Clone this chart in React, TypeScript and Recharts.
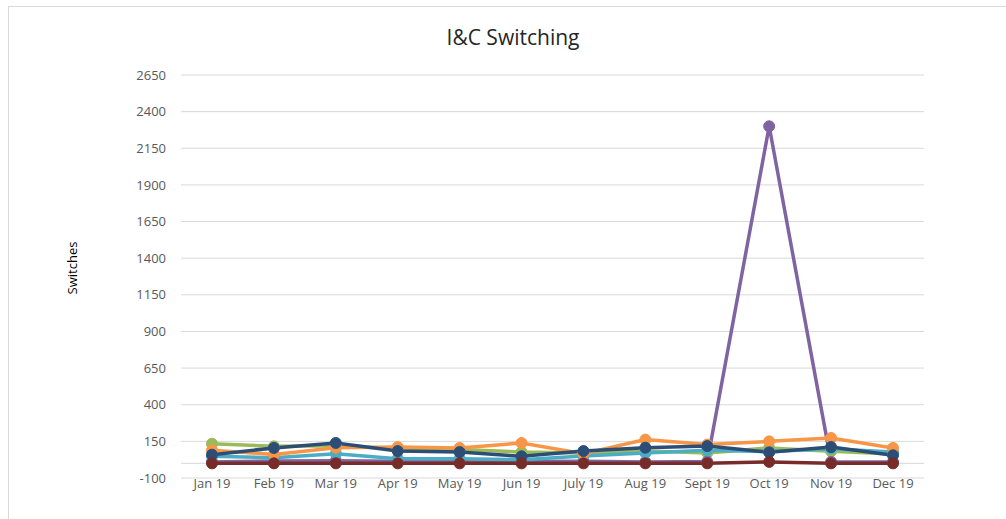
import React from "react";
import { LineChart, Line, XAxis, YAxis, CartesianGrid, ReferenceLine } from "recharts";

const months = ["Jan 19", "Feb 19", "Mar 19", "Apr 19", "May 19", "Jun 19", "July 19", "Aug 19", "Sept 19", "Oct 19", "Nov 19", "Dec 19"];
const seriesGreen = [134, 116, 120, 100, 95, 77, 70, 84, 71, 105, 82, 64];
const seriesPurple = [10, 16, 18, 15, 15, 12, 15, 10, 12, 2300, 10, 10];
const seriesAqua = [48, 39, 66, 32, 32, 25, 50, 71, 89, 80, 100, 77];
const seriesOrange = [89, 61, 107, 111, 105, 139, 66, 162, 128, 150, 173, 105];
const seriesDarkBlue = [59, 105, 139, 84, 77, 48, 84, 107, 118, 75, 111, 55];
const seriesDarkRed = [0, 0, 0, 0, 0, 0, 0, 0, 0, 10, 0, 0];
const yTicks = [-100, 150, 400, 650, 900, 1150, 1400, 1650, 1900, 2150, 2400, 2650];

const data = months.map((m, i) => ({
  month: m,
  s1: seriesGreen[i],
  s2: seriesPurple[i],
  s3: seriesAqua[i],
  s4: seriesOrange[i],
  s5: seriesDarkBlue[i],
  s6: seriesDarkRed[i],
}));

const series = [
  { key: "s1", color: "#9BBB59" },
  { key: "s2", color: "#8064A2" },
  { key: "s3", color: "#4BACC6" },
  { key: "s4", color: "#F79646" },
  { key: "s5", color: "#2C4D75" },
  { key: "s6", color: "#772C2A" },
];

const font = "'Open Sans', 'Liberation Sans', sans-serif";

export default function App() {
  return (
    <div style={{ position: "absolute", left: 0, top: 0, width: 1006, height: 519, background: "#fff", overflow: "hidden", fontFamily: font }}>
      <div style={{ position: "absolute", left: 8, top: 6, width: 1010, height: 530, border: "1px solid #d9d9d9", boxSizing: "border-box" }} />
      <div style={{ position: "absolute", left: 413, width: 200, top: 23, textAlign: "center", fontSize: 21, color: "#262626", whiteSpace: "nowrap" }}>
        I&amp;C Switching
      </div>
      <div style={{ position: "absolute", left: 72, top: 268, transform: "translate(-50%, -50%) rotate(-90deg)", fontSize: 13, color: "#000", whiteSpace: "nowrap" }}>
        Switches
      </div>
      <div style={{ position: "absolute", left: 0, top: 0 }}>
        <LineChart width={1006} height={519} data={data} margin={{ top: 75, right: 82, bottom: 11, left: 100 }}>
          <CartesianGrid horizontal={true} vertical={false} stroke="#d9d9d9" strokeWidth={1} />
          <ReferenceLine y={0} stroke="#d9d9d9" strokeWidth={1} />
          <XAxis
            dataKey="month"
            height={30}
            axisLine={false}
            tickLine={false}
            tickSize={0}
            tickMargin={1}
            padding={{ left: 31, right: 31 }}
            interval={0}
            tick={{ fill: "#595959", fontSize: 13, fontFamily: font }}
          />
          <YAxis
            width={81}
            domain={[-100, 2650]}
            ticks={yTicks}
            axisLine={false}
            tickLine={false}
            tickSize={0}
            tickMargin={15}
            interval={0}
            tick={{ fill: "#595959", fontSize: 13, fontFamily: font }}
          />
          {series.map((s) => (
            <Line
              key={s.key}
              dataKey={s.key}
              type="linear"
              stroke={s.color}
              strokeWidth={3.5}
              dot={{ r: 5.5, fill: s.color, stroke: s.color, strokeWidth: 1 }}
              activeDot={false}
              isAnimationActive={false}
            />
          ))}
        </LineChart>
      </div>
    </div>
  );
}
